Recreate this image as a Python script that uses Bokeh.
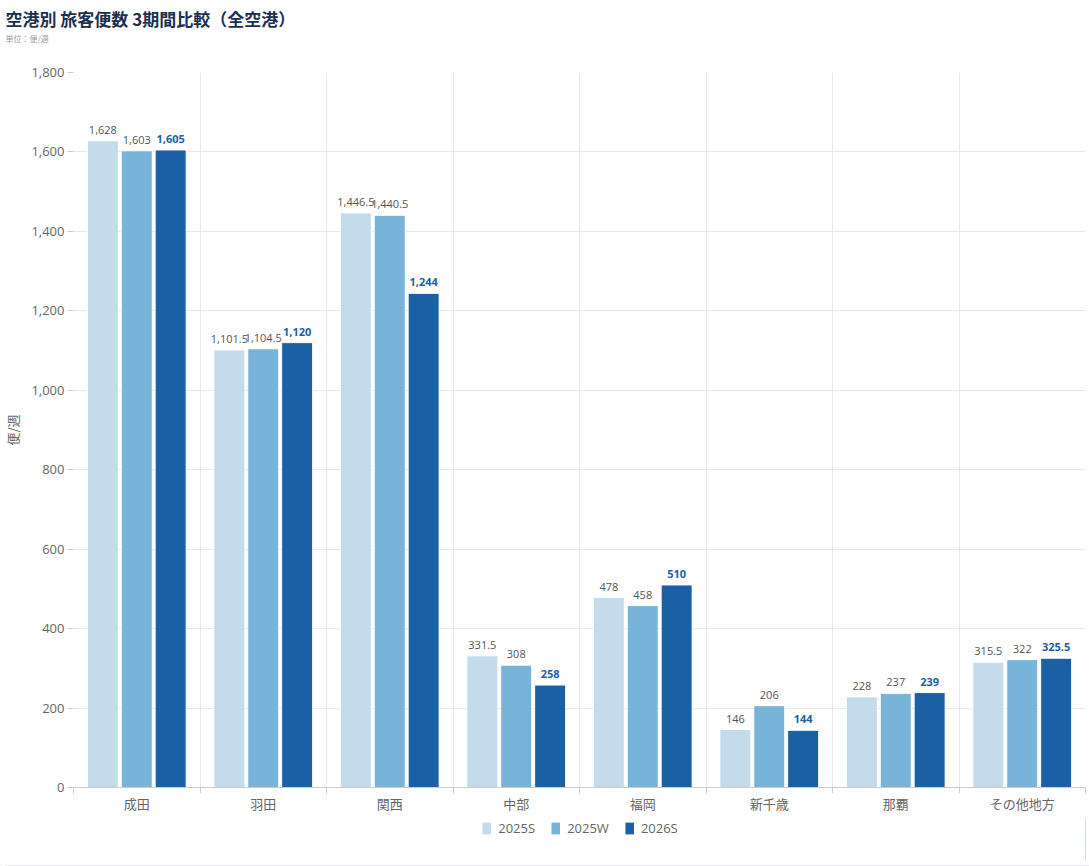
from bokeh.plotting import figure
from bokeh.models import (ColumnDataSource, Range1d, FixedTicker, NumeralTickFormatter,
                          Title, Legend, LegendItem, Div)
from bokeh.layouts import column
from bokeh.transform import dodge
from bokeh.core.properties import value
from bokeh.embed import file_html
from bokeh.resources import INLINE

categories = ["成田", "羽田", "関西", "中部", "福岡", "新千歳", "那覇", "その他地方"]
series_names = ["2025S", "2025W", "2026S"]
v2025S = [1628, 1101.5, 1446.5, 331.5, 478, 146, 228, 315.5]
v2025W = [1603, 1104.5, 1440.5, 308, 458, 206, 237, 322]
v2026S = [1605, 1120, 1244, 258, 510, 144, 239, 325.5]
y_ticks = [0, 200, 400, 600, 800, 1000, 1200, 1400, 1600, 1800]

colors = ["#c3dbea", "#78b4da", "#1b60a5"]
label_colors = ["#555555", "#555555", "#1b5fa5"]
label_styles = ["normal", "normal", "bold"]
FONT = "Noto Sans CJK JP"
NUMFONT = "Open Sans"


def fmt(v):
    if float(v).is_integer():
        return f"{int(v):,}"
    return f"{v:,.1f}"


xc = [i + 0.5 for i in range(len(categories))]
src = ColumnDataSource(dict(
    x=xc,
    s0=v2025S, s1=v2025W, s2=v2026S,
    l0=[fmt(v) for v in v2025S], l1=[fmt(v) for v in v2025W], l2=[fmt(v) for v in v2026S],
))

p = figure(width=1089, height=819, output_backend="svg", toolbar_location=None,
           x_range=Range1d(0, len(categories)), y_range=Range1d(0, 1800),
           min_border_left=73, min_border_right=4, min_border_top=72, min_border_bottom=32)
p.title = None
p.outline_line_color = None
p.background_fill_color = "white"
p.border_fill_color = "white"

offsets = [-0.268, 0.0, 0.268]
bw = 0.245
for k, off in enumerate(offsets):
    p.vbar(x=dodge("x", off), top=f"s{k}", width=bw, source=src,
           fill_color=colors[k], line_color="white", line_width=1)
    p.text(x=dodge("x", off), y=f"s{k}", text=f"l{k}", source=src,
           text_align="center", text_baseline="bottom", y_offset=-7,
           text_font=value(NUMFONT), text_font_size="11px",
           text_color=label_colors[k], text_font_style=label_styles[k])

# axes
p.xaxis.ticker = FixedTicker(ticks=xc, minor_ticks=list(range(len(categories) + 1)))
p.xaxis.major_label_overrides = {x: c for x, c in zip(xc, categories)}
p.xaxis.major_tick_line_color = None
p.xaxis.minor_tick_in = 0
p.xaxis.minor_tick_out = 6
p.xaxis.minor_tick_line_color = "#cccccc"
p.xaxis.axis_line_color = "#cccccc"
p.xaxis.major_label_text_font = FONT
p.xaxis.major_label_text_font_size = "13px"
p.xaxis.major_label_text_color = "#666666"
p.xaxis.major_label_standoff = 0

p.yaxis.ticker = FixedTicker(ticks=y_ticks)
p.yaxis.formatter = NumeralTickFormatter(format="0,0")
p.yaxis.axis_line_color = None
p.yaxis.major_tick_line_color = "#cccccc"
p.yaxis.major_tick_in = 0
p.yaxis.major_tick_out = 6
p.yaxis.minor_tick_line_color = None
p.yaxis.major_label_text_font = NUMFONT
p.yaxis.major_label_text_font_size = "13px"
p.yaxis.major_label_text_color = "#666666"
p.yaxis.major_label_standoff = 3
p.yaxis.axis_label = "便/週"
p.yaxis.axis_label_text_font = FONT
p.yaxis.axis_label_text_font_size = "13px"
p.yaxis.axis_label_text_color = "#666666"
p.yaxis.axis_label_text_font_style = "normal"
p.yaxis.axis_label_standoff = 6

p.xgrid.ticker = FixedTicker(ticks=list(range(len(categories) + 1)))
p.xgrid.grid_line_color = "#e8e8e8"
p.ygrid.grid_line_color = "#e8e8e8"

spacer = Title(text=" ", text_font_size="24px", standoff=0)
p.add_layout(spacer, "above")
sub = Title(text="単位：便/週", align="left", offset=-68, text_font=FONT,
            text_font_size="8px", text_color="#999999", text_font_style="normal",
            standoff=0)
p.add_layout(sub, "above")
ttl = Title(text="空港別 旅客便数 3期間比較（全空港）", align="left", offset=-68, text_font=FONT,
            text_font_size="17px", text_color="#1b2f4e", text_font_style="bold", standoff=0)
p.add_layout(ttl, "above")

# legend strip below the chart (its bars lie outside the visible x range)
lg = figure(width=1089, height=41, output_backend="svg", toolbar_location=None,
            x_range=Range1d(-101, -100), y_range=Range1d(0, 1),
            x_axis_type=None, y_axis_type=None,
            min_border_left=0, min_border_right=0, min_border_top=0, min_border_bottom=0)
lg.outline_line_color = None
lg.background_fill_color = "white"
lg.border_fill_color = "white"
items = []
for k, name in enumerate(series_names):
    r = lg.vbar(x="x", top=f"s{k}", width=bw, source=src,
                fill_color=colors[k], line_color="white", line_width=1)
    items.append(LegendItem(label=name, renderers=[r]))
legend = Legend(items=items, orientation="horizontal", location="top_center",
                label_text_font=NUMFONT, label_text_font_size="13px", label_text_color="#666666",
                glyph_width=12, glyph_height=16, spacing=14, label_standoff=6,
                border_line_color=None, background_fill_alpha=0, margin=0, padding=1)
lg.add_layout(legend, "center")

strip = Div(width=1089, height=6, styles={"background-color": "#e9e9eb"})

layout = column(p, lg, strip, spacing=0)
open("out.html", "w").write(file_html(layout, INLINE))
